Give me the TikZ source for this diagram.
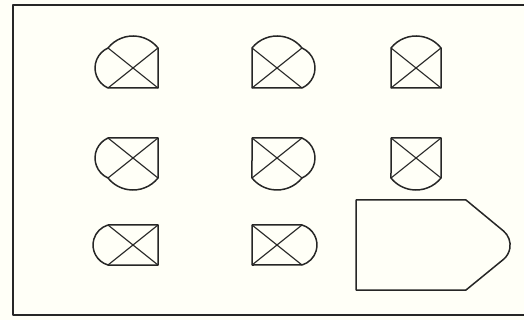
\documentclass[tikz,border=0pt]{standalone}
\begin{document}
\begin{tikzpicture}[x=1pt,y=-1pt,
  ln/.style={draw=black!85,line width=1.5pt,line join=round},
  dg/.style={draw=black!85,line width=1.1pt},
  topA/.style={start angle=-141.3,end angle=-38.7,radius=32.04},
  botA/.style={start angle=38.7,end angle=141.3,radius=32.04},
  lefA/.style={start angle=114,end angle=246,radius=21.88},
  rigA/.style={start angle=-66,end angle=66,radius=21.88},
  lefB/.style={start angle=106.3,end angle=253.7,radius=20.83},
  rigB/.style={start angle=-73.7,end angle=73.7,radius=20.83}]
\useasboundingbox (0,0) rectangle (524,320);
\clip (0,0) rectangle (524,320);
\fill[white!97!yellow] (0,0) rectangle (524,320);
\draw[ln,line width=1.8pt] (13,5) rectangle (540,315);
% row 1
\draw[ln] (108,48) arc[topA] -- (158,88) -- (108,88) arc[lefA] -- cycle;
\draw[dg] (108,48) -- (158,88) (158,48) -- (108,88);
\draw[ln] (252,48) arc[topA] arc[rigA] -- (252,88) -- cycle;
\draw[dg] (252,48) -- (302,88) (302,48) -- (252,88);
\draw[ln] (391,48) arc[topA] -- (441,88) -- (391,88) -- cycle;
\draw[dg] (391,48) -- (441,88) (441,48) -- (391,88);
% row 2
\draw[ln] (108,138) -- (158,138) -- (158,178) arc[botA] arc[lefA] -- cycle;
\draw[dg] (108,138) -- (158,178) (158,138) -- (108,178);
\draw[ln] (252,138) -- (302,138) arc[rigA] arc[botA] -- cycle;
\draw[dg] (252,138) -- (302,178) (302,138) -- (252,178);
\draw[ln] (391,138) -- (441,138) -- (441,178) arc[botA] -- cycle;
\draw[dg] (391,138) -- (441,178) (441,138) -- (391,178);
% row 3
\draw[ln] (108,225) -- (158,225) -- (158,265) -- (108,265) arc[lefB] -- cycle;
\draw[dg] (108,225) -- (158,265) (158,225) -- (108,265);
\draw[ln] (252,225) -- (302,225) arc[rigB] -- (252,265) -- cycle;
\draw[dg] (252,225) -- (302,265) (302,225) -- (252,265);
% big shape
\draw[ln] (356,200) -- (466,200) -- (503.5,231) arc[start angle=-50,end angle=50,radius=18.5] -- (466,290) -- (356,290) -- cycle;
\end{tikzpicture}
\end{document}
